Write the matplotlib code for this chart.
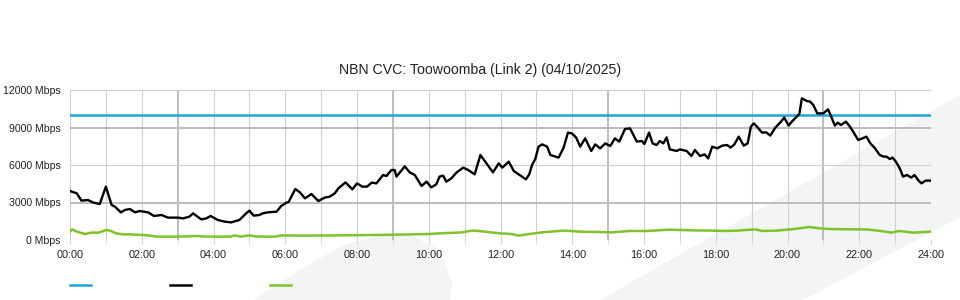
import matplotlib.pyplot as plt
from matplotlib.patches import Polygon
from matplotlib.lines import Line2D

plt.rcParams['font.family'] = ['Liberation Sans', 'DejaVu Sans']

# link capacity (Mbps)
capacity = 10000

# traffic in (black), hours / Mbps
in_hours = [0.00, 0.19, 0.32, 0.50, 0.65, 0.83, 1.00, 1.16, 1.25, 1.42, 1.53, 1.67, 1.81, 1.94,
            2.18, 2.34, 2.55, 2.73, 3.01, 3.15, 3.33, 3.43, 3.66, 3.80, 3.92, 4.12, 4.31, 4.49,
            4.72, 4.91, 5.00, 5.12, 5.28, 5.37, 5.51, 5.76, 5.88, 6.00, 6.10, 6.28, 6.41, 6.55,
            6.73, 6.92, 7.10, 7.24, 7.38, 7.48, 7.68, 7.87, 8.00, 8.15, 8.28, 8.41, 8.54, 8.73,
            8.82, 8.96, 9.05, 9.10, 9.33, 9.47, 9.61, 9.80, 9.94, 10.07, 10.21, 10.30, 10.40,
            10.49, 10.63, 10.77, 10.96, 11.10, 11.28, 11.44, 11.61, 11.79, 11.95, 12.05, 12.23,
            12.37, 12.56, 12.71, 12.80, 12.88, 12.97, 13.06, 13.16, 13.30, 13.39, 13.62, 13.76,
            13.88, 13.99, 14.11, 14.22, 14.36, 14.53, 14.64, 14.78, 14.92, 15.06, 15.19, 15.31,
            15.47, 15.61, 15.80, 15.94, 16.01, 16.14, 16.24, 16.35, 16.44, 16.54, 16.63, 16.72,
            16.91, 17.00, 17.19, 17.32, 17.42, 17.56, 17.69, 17.79, 17.90, 18.04, 18.18, 18.32,
            18.41, 18.52, 18.64, 18.78, 18.89, 18.98, 19.06, 19.15, 19.29, 19.41, 19.52, 19.66,
            19.80, 19.91, 20.03, 20.12, 20.26, 20.33, 20.40, 20.54, 20.63, 20.72, 20.83, 21.00,
            21.13, 21.20, 21.32, 21.40, 21.49, 21.63, 21.74, 21.83, 21.97, 22.09, 22.20, 22.31,
            22.44, 22.57, 22.68, 22.76, 22.85, 22.93, 23.02, 23.13, 23.22, 23.33, 23.45, 23.54,
            23.64, 23.73, 23.85, 24.00]
in_mbps = [3920, 3730, 3150, 3200, 2990, 2880, 4270, 2800, 2670, 2210, 2400, 2480, 2210, 2320,
           2210, 1920, 2000, 1790, 1790, 1730, 1870, 2130, 1650, 1730, 1920, 1600, 1470, 1410,
           1600, 2130, 2350, 1950, 2000, 2130, 2210, 2270, 2700, 2930, 3070, 4080, 3810, 3330,
           3680, 3120, 3390, 3470, 3730, 4130, 4610, 4050, 4530, 4270, 4270, 4590, 4530, 5200,
           5120, 5600, 5600, 5070, 5890, 5410, 5200, 4320, 4670, 4210, 4450, 5070, 5150,
           4670, 4930, 5390, 5790, 5600, 5250, 6800, 6130, 5410, 6130, 5790, 6270,
           5520, 5150, 4850, 5250, 6000, 6480, 7470, 7650, 7470, 6800, 6590, 7390,
           8590, 8530, 8190, 7470, 8130, 7120, 7650, 7330, 7730, 7520, 8130, 7870,
           8880, 8930, 7870, 7920, 7680, 8590, 7730, 7600, 7920, 7730, 8210, 7250,
           7120, 7250, 7120, 6720, 7200, 6720, 6850, 6530, 7470, 7330, 7550, 7600,
           7390, 7650, 8270, 7550, 7730, 9070, 9330, 9070, 8590, 8610, 8350, 8990,
           9410, 9790, 9150, 9470, 9870, 10080, 11330, 11120, 11070, 10800, 10130, 10130,
           10450, 10000, 9150, 9390, 9200, 9470, 9070, 8670, 8000, 8130, 8270, 7730,
           7330, 6800, 6670, 6670, 6480, 6590, 6270, 5730, 5070, 5200, 4990, 5200,
           4800, 4530, 4750, 4750]

# traffic out (green)
out_hours = [0.00, 0.06, 0.19, 0.42, 0.60, 0.80, 1.00, 1.11, 1.29, 1.48, 1.71, 1.99, 2.18, 2.41,
             3.00, 3.56, 3.75, 4.49, 4.58, 4.77, 5.00, 5.23, 5.70, 5.93, 6.50, 7.50, 8.50, 9.00,
             9.50, 10.00, 10.50, 10.90, 11.20, 11.40, 11.70, 12.00, 12.30, 12.50, 12.80, 13.25,
             13.80, 14.20, 14.70, 15.10, 15.60, 16.10, 16.70, 17.00, 17.40, 17.90, 18.30, 18.60,
             19.10, 19.30, 19.70, 20.20, 20.60, 20.90, 21.20, 21.80, 22.20, 22.60, 22.90, 23.10,
             23.50, 24.00]
out_mbps = [670, 850, 670, 480, 590, 590, 800, 750, 530, 450, 450, 400, 370, 270,
            270, 320, 270, 270, 370, 270, 370, 270, 270, 370, 350, 370, 400, 420,
            450, 480, 560, 600, 750, 720, 620, 530, 480, 350, 480, 640,
            750, 670, 640, 610, 720, 720, 830, 800, 770, 750, 720, 750,
            850, 720, 750, 880, 1040, 930, 880, 850, 850, 720, 590, 720,
            590, 670]

y_ticks = [0, 3000, 6000, 9000, 12000]
x_labels = ['%02d:00' % h for h in range(0, 25, 2)]

BLUE = '#22a3dd'
GREEN = '#7fc22b'

fig = plt.figure(figsize=(9.6, 3.0), dpi=100)

# faint background shapes (pixel coords from top-left)
def to_fig(pts):
    return [(x / 960, 1 - y / 300) for x, y in pts]

band = [(600, 300), (960, 95), (960, 217), (803, 300)]
blob = [(253, 300), (300, 270), (343, 245), (380, 236), (412, 236), (440, 250), (452, 283), (450, 300)]
for shape in (band, blob):
    fig.patches.append(Polygon(to_fig(shape), closed=True, transform=fig.transFigure,
                               facecolor='#f3f4f6', edgecolor='none', zorder=-5))

ax = fig.add_axes([70 / 960, 60 / 300, 861 / 960, 150 / 300])
ax.set_facecolor('none')
ax.set_zorder(1)

# grid
for h in range(25):
    dark = h % 6 == 3
    ax.axvline(h, color='#bdbdbd' if dark else '#d0d0d0', lw=1.4 if dark else 0.8, zorder=1)
for v in y_ticks:
    dark = v in (3000, 9000)
    ax.axhline(v, color='#bdbdbd' if dark else '#d0d0d0', lw=1.4 if dark else 0.8, zorder=1)

ax.axhline(capacity, color=BLUE, lw=1.8, zorder=3)
ax.plot(out_hours, out_mbps, color=GREEN, lw=1.8, zorder=3)
ax.plot(in_hours, in_mbps, color='black', lw=1.7, zorder=4)

ax.set_xlim(0, 24)
ax.set_ylim(0, 12000)
for s in ax.spines.values():
    s.set_visible(False)

ax.set_xticks(range(0, 25, 2))
ax.set_xticklabels(x_labels, fontsize=7.8, color='#222222')
ax.set_xticks(range(25), minor=True)
ax.tick_params(axis='x', which='both', length=3, color='#d0d0d0', pad=4)
ax.set_yticks(y_ticks)
ax.set_yticklabels(['%d Mbps' % v for v in y_ticks], fontsize=7.6, color='#222222')
ax.tick_params(axis='y', length=0, pad=7)

fig.text(0.5, 1 - 70 / 300, 'NBN CVC: Toowoomba (Link 2) (04/10/2025)', fontsize=10.2,
         ha='center', va='center', color='#222222')

# legend swatches (no labels)
for x0, c in ((70, BLUE), (170, 'black'), (270, GREEN)):
    fig.add_artist(Line2D([x0 / 960, (x0 + 21) / 960], [15 / 300, 15 / 300],
                          color=c, lw=1.8, transform=fig.transFigure))

fig.savefig('out.png', dpi=100)
